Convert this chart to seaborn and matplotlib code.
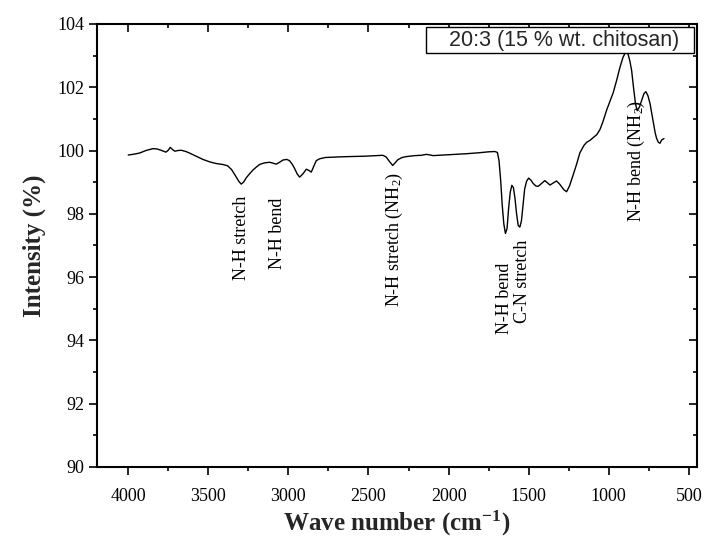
"""FTIR spectrum of the 20:3 (15 % wt. chitosan) sample with band assignments."""

import matplotlib
matplotlib.use("Agg")
import matplotlib.pyplot as plt
from matplotlib.ticker import MultipleLocator
import seaborn as sns

# Spectrum (wave number in cm-1, intensity in %)
wavenumber = [
    4000, 3970, 3930, 3890, 3847, 3820, 3790, 3765, 3750, 3738, 3725, 3710,
    3690, 3670, 3640, 3617, 3580, 3534, 3490, 3451, 3410, 3380, 3355, 3330,
    3310, 3295, 3280, 3263, 3240, 3222, 3200, 3180, 3150, 3118, 3095, 3076,
    3055, 3034, 3010, 2993, 2975, 2961, 2945, 2930, 2910, 2888, 2875, 2857,
    2842, 2826, 2805, 2770, 2730, 2680, 2618, 2530, 2450, 2411, 2390, 2370,
    2349, 2330, 2317, 2290, 2263, 2210, 2170, 2138, 2115, 2097, 2030, 1960,
    1888, 1810, 1750, 1711, 1695, 1685, 1675, 1665, 1655, 1645, 1635, 1625,
    1615, 1605, 1595, 1585, 1575, 1565, 1555, 1545, 1535, 1525, 1513, 1500,
    1485, 1472, 1455, 1440, 1420, 1399, 1382, 1367, 1345, 1326, 1305, 1280,
    1263, 1245, 1222, 1200, 1180, 1155, 1138, 1115, 1097, 1075, 1055, 1035,
    1013, 992, 972, 950, 930, 910, 895, 880, 868, 857, 845, 833,
    822, 808, 795, 780, 768, 755, 742, 730, 720, 710, 701, 690,
    680, 670, 655,
]
intensity = [
    99.86, 99.88, 99.92, 100.00, 100.06, 100.05, 100.00, 99.95, 100.01, 100.10, 100.04, 99.98,
    100.00, 100.01, 99.97, 99.92, 99.83, 99.72, 99.64, 99.59, 99.56, 99.52, 99.40, 99.20,
    99.03, 98.94, 99.00, 99.14, 99.28, 99.38, 99.48, 99.56, 99.61, 99.63, 99.60, 99.57,
    99.63, 99.70, 99.72, 99.68, 99.56, 99.43, 99.26, 99.16, 99.26, 99.41, 99.38, 99.32,
    99.50, 99.68, 99.74, 99.78, 99.79, 99.80, 99.81, 99.82, 99.84, 99.85, 99.80, 99.66,
    99.53, 99.63, 99.71, 99.78, 99.81, 99.84, 99.85, 99.88, 99.86, 99.84, 99.86, 99.88,
    99.90, 99.93, 99.96, 99.97, 99.94, 99.68, 99.08, 98.28, 97.68, 97.38, 97.53, 98.18,
    98.68, 98.90, 98.83, 98.48, 97.98, 97.63, 97.58, 97.78, 98.28, 98.78, 99.03, 99.13,
    99.06, 98.96, 98.88, 98.87, 98.96, 99.05, 98.98, 98.91, 98.98, 99.04, 98.93, 98.76,
    98.70, 98.88, 99.23, 99.58, 99.93, 100.16, 100.26, 100.33, 100.41, 100.50, 100.66, 100.93,
    101.28, 101.56, 101.83, 102.23, 102.63, 102.96, 103.10, 103.06, 102.83, 102.53, 101.98, 101.48,
    101.26, 101.38, 101.58, 101.80, 101.86, 101.73, 101.48, 101.13, 100.83, 100.56, 100.38, 100.26,
    100.23, 100.33, 100.38,
]

# Band assignments: label, wave number, top of the (rotated) text in %
band_labels = [
    "N-H stretch",
    "N-H bend",
    "N-H stretch (NH$\\mathregular{_2}$)",
    "N-H bend",
    "C-N stretch",
    "N-H bend (NH$\\mathregular{_2}$)",
]
band_positions = [3290, 3065, 2335, 1648, 1536, 824]
band_tops = [98.56, 98.50, 99.32, 96.45, 97.17, 101.60]

sample_label = "20:3 (15 % wt. chitosan)  "


def plot_ftir_spectrum(output_path="out.png"):
    sns.set_style("ticks")
    plt.rcParams["font.family"] = ["Liberation Serif", "DejaVu Serif"]
    plt.rcParams["mathtext.fontset"] = "custom"
    plt.rcParams["mathtext.rm"] = "Liberation Serif"
    plt.rcParams["mathtext.bf"] = "Liberation Serif:bold"

    fig, ax = plt.subplots(figsize=(7.06, 5.40), dpi=100)
    fig.subplots_adjust(left=0.1374, right=0.987, bottom=0.1352, top=0.9556)

    sns.lineplot(x=wavenumber, y=intensity, sort=False, color="black",
                 linewidth=1.0, label=sample_label, ax=ax)

    # Band labels, rotated like in Origin
    for label, wn, top in zip(band_labels, band_positions, band_tops):
        ax.text(wn, top, label, rotation=90, ha="center", va="top",
                fontsize=13, color="black")

    ax.set_xlim(4195, 450)
    ax.set_ylim(90, 104)
    ax.xaxis.set_major_locator(MultipleLocator(500))
    ax.xaxis.set_minor_locator(MultipleLocator(250))
    ax.yaxis.set_major_locator(MultipleLocator(2))
    ax.yaxis.set_minor_locator(MultipleLocator(1))

    ax.tick_params(axis="both", which="both", direction="out", width=1.2,
                   labelsize=13, colors="black")
    ax.tick_params(axis="both", which="major", length=6)
    ax.tick_params(axis="both", which="minor", length=3)
    ax.tick_params(axis="x", which="major", pad=9)
    ax.tick_params(axis="y", which="major", pad=3)
    # Origin-style inner ticks on the opposite spines
    ax.tick_params(axis="x", which="both", top=True, labeltop=False)
    ax.tick_params(axis="y", which="both", right=True, labelright=False)
    for tick in ax.xaxis.get_major_ticks() + ax.xaxis.get_minor_ticks():
        tick.tick2line.set_marker(3)  # TICKDOWN from the top spine
    for tick in ax.yaxis.get_major_ticks() + ax.yaxis.get_minor_ticks():
        tick.tick2line.set_marker(0)  # TICKLEFT from the right spine
    for spine in ax.spines.values():
        spine.set_visible(True)
        spine.set_linewidth(1.5)
        spine.set_color("black")

    ax.set_xlabel("Wave number (cm$\\mathbf{^{-1}}$)", fontsize=18,
                  fontweight="bold", labelpad=3)
    ax.set_ylabel("Intensity (%)", fontsize=18, fontweight="bold", labelpad=8)

    leg = ax.legend(loc="upper right", handlelength=0.95, handletextpad=0.0,
                    fancybox=False, framealpha=1, edgecolor="black",
                    borderaxespad=0.15, borderpad=0.12,
                    prop={"family": "Liberation Sans", "size": 15.5})
    leg.get_frame().set_linewidth(1.0)
    for handle in leg.legend_handles:
        handle.set_visible(False)

    fig.savefig(output_path, dpi=100)
    plt.close(fig)
    return output_path


if __name__ == "__main__":
    plot_ftir_spectrum("out.png")
